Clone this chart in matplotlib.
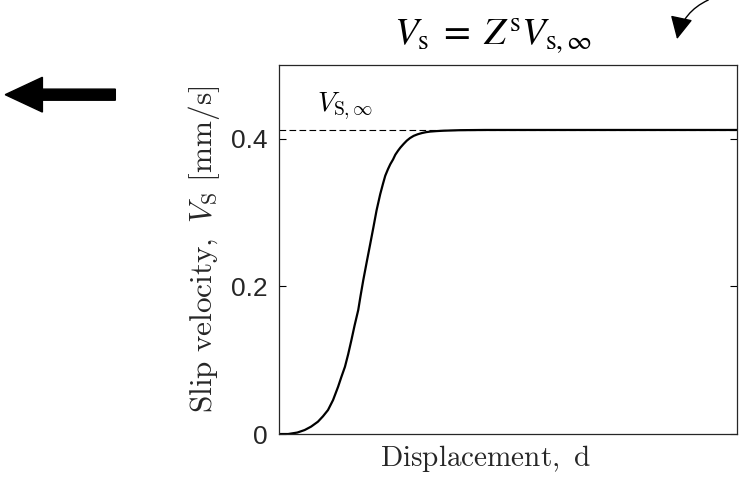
import matplotlib
matplotlib.use("Agg")
import matplotlib.pyplot as plt
from matplotlib.patches import FancyArrow, FancyArrowPatch

# Slip velocity vs displacement (arbitrary displacement units)
displacement = [0.0, 0.020, 0.040, 0.056, 0.070, 0.085, 0.096, 0.107, 0.118,
                0.129, 0.136, 0.144, 0.151, 0.158, 0.165, 0.173, 0.178, 0.184,
                0.192, 0.199, 0.206, 0.213, 0.221, 0.227, 0.232, 0.238, 0.243,
                0.249, 0.254, 0.260, 0.265, 0.272, 0.279, 0.286, 0.294, 0.303,
                0.312, 0.321, 0.330, 0.345, 0.360, 0.380, 0.396, 0.450, 1.0]
slip_velocity = [0.0, 0.0, 0.002, 0.0054, 0.010, 0.0167, 0.024, 0.0325, 0.046,
                 0.064, 0.077, 0.0911, 0.108, 0.127, 0.147, 0.168, 0.187,
                 0.2085, 0.2346, 0.257, 0.2797, 0.303, 0.325, 0.339, 0.350,
                 0.359, 0.3656, 0.372, 0.3785, 0.384, 0.3881, 0.393, 0.3975,
                 0.401, 0.404, 0.4062, 0.4078, 0.409, 0.4098, 0.4105, 0.411,
                 0.4114, 0.4117, 0.412, 0.412]
v_inf = 0.412
y_ticks = [0, 0.2, 0.4]
y_tick_labels = ["0", "0.2", "0.4"]

plt.rcParams["mathtext.fontset"] = "cm"

fig = plt.figure(figsize=(7.44, 4.83), dpi=100)
ax = fig.add_axes([0.375, 0.1014, 0.6156, 0.764])

ax.plot(displacement, slip_velocity, color="black", lw=1.6,
        solid_joinstyle="round")
ax.axhline(v_inf, color="black", lw=0.8, ls=(0, (6, 3)))
ax.text(0.144, v_inf + 0.011, r"$V_{\mathrm{S},\infty}$", fontsize=20,
        ha="center", va="bottom")

ax.set_xlim(0, 1)
ax.set_ylim(0, 0.5)
ax.set_xticks([])
ax.set_yticks(y_ticks)
ax.set_yticklabels(y_tick_labels, fontfamily="Liberation Sans", fontsize=19,
                   color="#262626")
ax.tick_params(axis="y", direction="in", length=5, width=0.8, pad=8,
               right=True)
for s in ax.spines.values():
    s.set_linewidth(0.9)
    s.set_color("#262626")

ax.set_ylabel(r"$\mathrm{Slip\ velocity,}\ V_{\mathrm{S}}\ \mathrm{[mm/s]}$",
              fontsize=22.5, color="#262626")
ax.yaxis.set_label_coords(-0.125, 0.5)
ax.set_xlabel(r"$\mathrm{Displacement,\ d}$", fontsize=21, color="#262626")
ax.xaxis.set_label_coords(0.45, -0.025)

# Equation above the plot
fig.text(0.663, 0.925,
         r"$V_{\mathrm{s}}\;=\;Z^{\mathrm{s}}V_{\mathrm{s},\infty}$",
         fontsize=28, ha="center", va="center", math_fontfamily="stix")

# Curved pointer at upper right
fig.patches.append(FancyArrowPatch(
    (0.952, 1.0), (0.910, 0.919), transform=fig.transFigure,
    connectionstyle="arc3,rad=0.25",
    arrowstyle="-|>,head_length=10,head_width=5",
    color="black", lw=1.0, mutation_scale=1.4, shrinkA=0, shrinkB=0))

# Bold arrow at left
fig.patches.append(FancyArrow(0.155, 0.804, -0.148, 0.0, width=0.023,
                              head_width=0.072, head_length=0.05,
                              length_includes_head=True, color="black",
                              transform=fig.transFigure))

fig.savefig("out.png", dpi=100)
